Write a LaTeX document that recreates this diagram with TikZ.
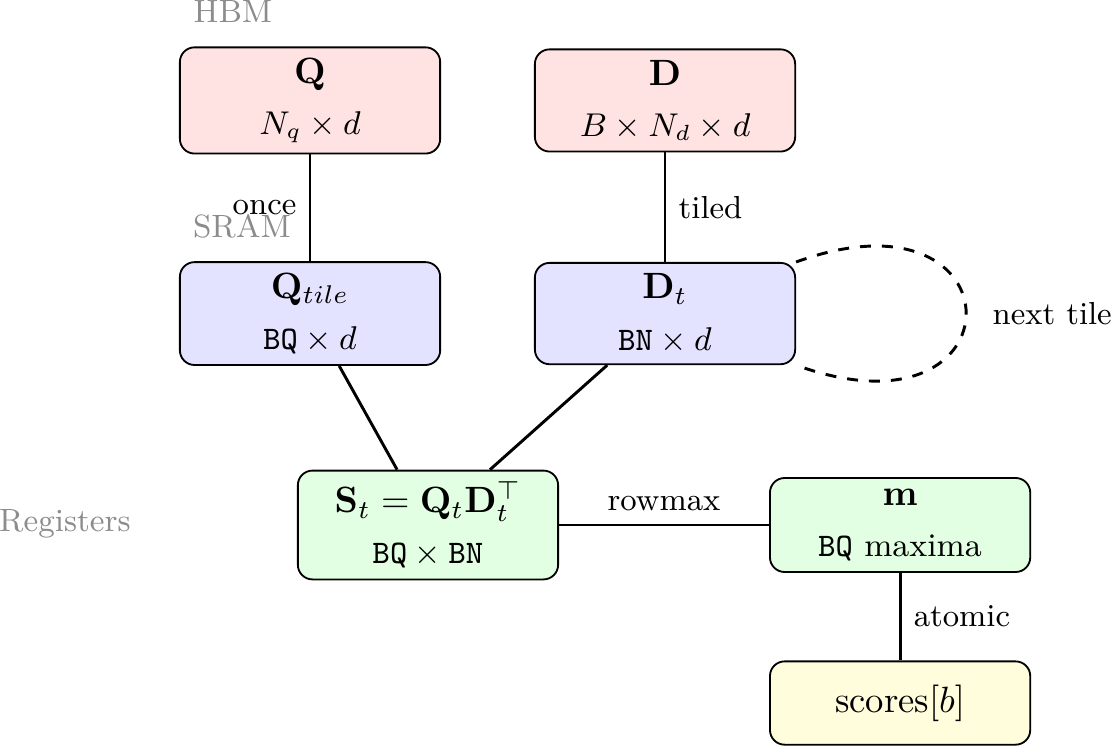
\documentclass[tikz,border=0pt]{standalone}
\usetikzlibrary{positioning}

\begin{document}
\begin{tikzpicture}[
    buf/.style={draw, line width=0.5pt, rounded corners=4pt, align=center,
                minimum width=2.5cm, minimum height=0.8cm, inner sep=3pt},
    hbmbuf/.style={buf, fill=red!11},
    srambuf/.style={buf, fill=blue!11},
    regbuf/.style={buf, fill=green!11},
    outbuf/.style={buf, fill=yellow!14},
    layer/.style={font=\fontsize{8.8}{10.5}\selectfont, text=black!45},
    flow/.style={thick},
    flowlabel/.style={font=\fontsize{8.7}{10.5}\selectfont},
    looplink/.style={thick, dashed},
]

\useasboundingbox (0,0) rectangle (10.672,-7.166);

% ── Memory levels ──
\node[layer] (hbm)  at (2.238,-0.115) {HBM};
\node[layer] (sram) at (2.325,-2.171) {SRAM};
\node[layer] (reg)  at (0.624,-5.034) {Registers};

% ── HBM ──
\node[hbmbuf] (q) at (2.978,-0.965) {$\mathbf{Q}$\\[2pt]{\small $N_q \times d$}};
\node[hbmbuf] (d) at (6.388,-0.965) {$\mathbf{D}$\\[2pt]{\small $B \times N_d \times d$}};

% ── SRAM tiles ──
\node[srambuf] (qt) at (2.978,-3.012) {$\mathbf{Q}_{tile}$\\[2pt]{\small $\texttt{BQ} \times d$}};
\node[srambuf] (dt) at (6.388,-3.012) {$\mathbf{D}_t$\\[2pt]{\small $\texttt{BN} \times d$}};

% ── Registers ──
\node[regbuf] (s) at (4.111,-5.043) {$\mathbf{S}_t = \mathbf{Q}_t\mathbf{D}_t^{\top}$\\[2pt]{\small $\texttt{BQ} \times \texttt{BN}$}};
\node[regbuf] (m) at (8.646,-5.043) {$\mathbf{m}$\\[2pt]{\small \texttt{BQ} maxima}};
\node[outbuf] (sc) at (8.646,-6.753) {scores$[b]$};

% ── Links ──
\draw[flow] (q) -- node[left, flowlabel] {once} (qt);
\draw[flow] (d) -- node[right, flowlabel] {tiled} (dt);
\draw[looplink] (dt.north east) to[out=20, in=-20, looseness=6]
    node[right, flowlabel, xshift=3.5pt] {next tile} (dt.south east);
\draw[flow] (qt) -- (s);
\draw[flow] (dt) -- (s);
\draw[flow] (s) -- node[above, flowlabel] {rowmax} (m);
\draw[flow] (m) -- node[right, flowlabel] {atomic} (sc);

\end{tikzpicture}
\end{document}
